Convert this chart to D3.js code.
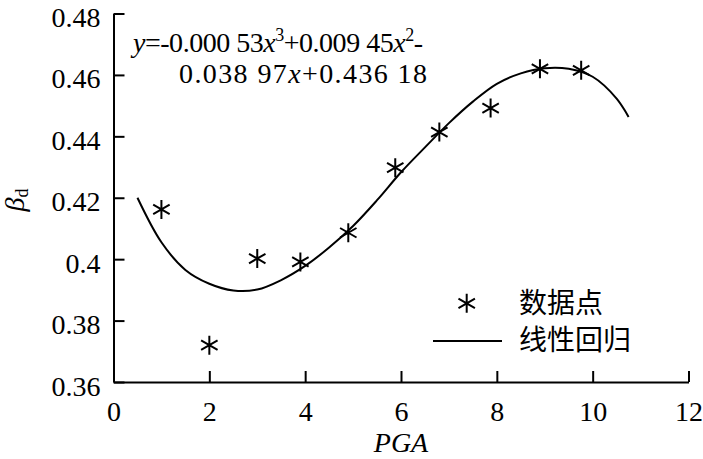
<!DOCTYPE html>
<html><head><meta charset="utf-8"><script src="https://cdn.jsdelivr.net/npm/d3@7"></script></head>
<body style="margin:0">
<svg id="s" width="703" height="459"></svg>
<script>
// ---- data ----
const pointX = [1, 2, 3, 3.9, 4.9, 5.88, 6.8, 7.87, 8.9, 9.76];
const pointY = [0.4162, 0.3720, 0.4002, 0.3991, 0.4086, 0.4298, 0.4414, 0.4492, 0.4620, 0.4615];

const curveX = [0.5, 1, 1.5, 2, 2.5, 3, 3.5, 4, 4.5, 5, 5.5, 6, 6.5, 7, 7.5, 8, 8.5, 9, 9.5, 10, 10.5, 10.75];
const curveY = [0.4200, 0.4055, 0.3965, 0.3920, 0.3898, 0.3901, 0.3932, 0.3978, 0.4038, 0.4108, 0.4192, 0.4283,
                0.4364, 0.4443, 0.4513, 0.4571, 0.4605, 0.4622, 0.4620, 0.4594, 0.4523, 0.4463];

const xTicks = [0, 2, 4, 6, 8, 10, 12];
const yTicks = [0.36, 0.38, 0.40, 0.42, 0.44, 0.46, 0.48];
const yTickLabels = ["0.36", "0.38", "0.4", "0.42", "0.44", "0.46", "0.48"];
const legendLabels = ["数据点", "线性回归"];

const fams = ["Liberation Serif", "Noto Sans CJK SC"];
const ff = i => `"${fams[i]}"`;

const svg = d3.select("#s");
const x = d3.scaleLinear().domain([0, 12]).range([113.5, 688.5]);
const y = d3.scaleLinear().domain([0.36, 0.48]).range([382, 13.5]);
const tickLen = 11;

// x axis
const gx = svg.append("g").attr("transform", `translate(0,${y(0.36)})`)
  .call(d3.axisBottom(x).tickValues(xTicks).tickSizeInner(-tickLen).tickSizeOuter(0).tickFormat(d3.format("d")));
gx.select(".domain").attr("stroke", "#000").attr("stroke-width", 2);
gx.selectAll(".tick line").attr("stroke", "#000").attr("stroke-width", 2);
gx.selectAll(".tick text").attr("fill", "#000").attr("y", 38.5).attr("dy", null)
  .style("font-family", () => ff(0)).style("font-size", "28px");

// y axis
const gy = svg.append("g").attr("transform", `translate(${x(0)},0)`)
  .call(d3.axisLeft(y).tickValues(yTicks).tickSizeInner(-tickLen).tickSizeOuter(0)
    .tickFormat((d, i) => yTickLabels[i]));
gy.select(".domain").attr("stroke", "#000").attr("stroke-width", 2);
gy.selectAll(".tick line").attr("stroke", "#000").attr("stroke-width", 2);
gy.selectAll(".tick text").attr("fill", "#000").attr("x", -13).attr("dy", 13)
  .style("font-family", () => ff(0)).style("font-size", "28px");

// curve
const curveData = curveX.map((d, i) => [d, curveY[i]]);
svg.append("path")
  .datum(curveData)
  .attr("fill", "none")
  .attr("stroke", "#000")
  .attr("stroke-width", 2)
  .attr("d", d3.line().x(d => x(d[0])).y(d => y(d[1])).curve(d3.curveCatmullRom.alpha(0.5)));

// asterisk marker
function star(r) {
  const a = Math.PI / 6;
  const c = Math.cos(a) * r, s = Math.sin(a) * r;
  return `M0,${-r}L0,${r}M${-c},${-s}L${c},${s}M${-c},${s}L${c},${-s}`;
}
const pts = pointX.map((d, i) => [d, pointY[i]]);
svg.append("g").selectAll("path").data(pts).join("path")
  .attr("transform", d => `translate(${x(d[0])},${y(d[1])})`)
  .attr("d", star(9.5))
  .attr("fill", "none").attr("stroke", "#000").attr("stroke-width", 2);

// equation
const l1 = svg.append("text").attr("x", 133).attr("y", 52).attr("textLength", 290).attr("lengthAdjust", "spacing")
  .style("font-family", () => ff(0)).style("font-size", "28px");
l1.append("tspan").style("font-style", "italic").text("y");
l1.append("tspan").text("=-0.000 53");
l1.append("tspan").style("font-style", "italic").text("x");
l1.append("tspan").attr("dy", -11).style("font-size", "18px").text("3");
l1.append("tspan").attr("dy", 11).text("+0.009 45");
l1.append("tspan").style("font-style", "italic").text("x");
l1.append("tspan").attr("dy", -11).style("font-size", "18px").text("2");
l1.append("tspan").attr("dy", 11).text("-");
const l2 = svg.append("text").attr("x", 179).attr("y", 83).attr("textLength", 248).attr("lengthAdjust", "spacing")
  .style("font-family", () => ff(0)).style("font-size", "28px");
l2.append("tspan").text("0.038 97");
l2.append("tspan").style("font-style", "italic").text("x");
l2.append("tspan").text("+0.436 18");

// axis titles
svg.append("text").attr("x", x(6)).attr("y", 452).attr("text-anchor", "middle")
  .style("font-family", () => ff(0)).style("font-size", "28px").style("font-style", "italic").text("PGA");
const yl = svg.append("text")
  .attr("transform", "translate(24,200) rotate(-90)").attr("text-anchor", "middle")
  .style("font-family", () => ff(0)).style("font-size", "28px");
yl.append("tspan").style("font-style", "italic").text("β");
yl.append("tspan").attr("dy", 4).style("font-size", "18px").text("d");

// legend
svg.append("path").attr("transform", "translate(466.7,303.3)").attr("d", star(9.5))
  .attr("fill", "none").attr("stroke", "#000").attr("stroke-width", 2);
svg.append("line").attr("x1", 433).attr("x2", 502).attr("y1", 341).attr("y2", 341)
  .attr("stroke", "#000").attr("stroke-width", 2);
svg.selectAll("text.leg").data(legendLabels).join("text").attr("class", "leg")
  .attr("x", 519).attr("y", (d, i) => 313 + i * 37)
  .style("font-family", () => ff(1)).style("font-size", "28px").text(d => d);
</script>
</body></html>
